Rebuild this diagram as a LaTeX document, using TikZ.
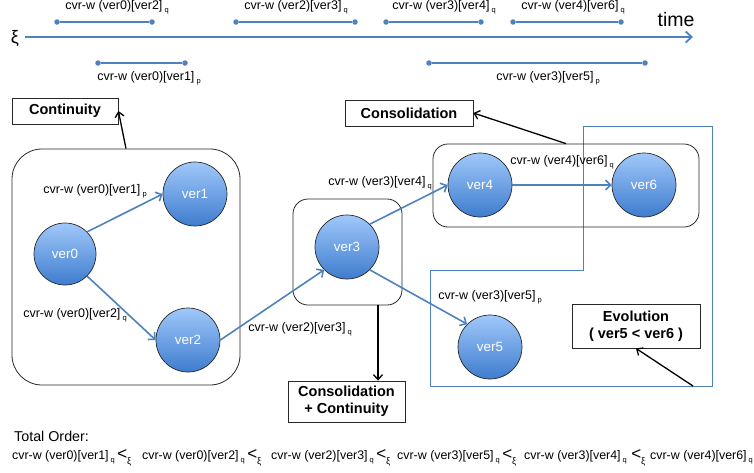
\documentclass[tikz,border=0pt]{standalone}
\usepackage{fontspec}
\setmainfont{Liberation Sans}
\usetikzlibrary{arrows.meta,calc}
\definecolor{eblue}{RGB}{79,129,189}
\definecolor{ctop}{RGB}{160,200,250}
\definecolor{cbot}{RGB}{62,124,206}
\definecolor{bord}{RGB}{40,40,40}
\newcommand{\sq}[1]{\raisebox{-0.5ex}{\fontsize{7.5}{8}\selectfont #1}}
\newcommand{\cvrw}[3]{cvr-w (#1)[#2]\,\sq{#3}}
\newcommand{\ltxi}{{\fontsize{17}{17}\selectfont <}\raisebox{-1.1ex}{\fontsize{9.5}{9.5}\selectfont ξ}}
\begin{document}
\begin{tikzpicture}[x=1pt,y=-1pt,
  vert/.style={circle, draw=bord, line width=0.7pt, minimum size=64pt, inner sep=0pt,
    top color=ctop, bottom color=cbot, text=white, font=\fontsize{13.4}{15}\selectfont},
  lbl/.style={font=\fontsize{12.5}{14}\selectfont, inner sep=0pt},
  tag/.style={draw=bord, line width=0.8pt, fill=white, inner sep=0pt,
    font=\bfseries\fontsize{14.5}{17}\selectfont, align=center},
  grp/.style={draw=bord, line width=0.8pt, inner sep=0pt},
  edge/.style={eblue, line width=1.6pt, -{Straight Barb[length=5pt,width=10pt]}},
  callout/.style={black, line width=1.3pt, -{Straight Barb[length=5pt,width=9pt]}},
  dot/.style={circle, fill=eblue, inner sep=0pt, minimum size=5.5pt},
  ival/.style={eblue, line width=1.6pt},
  term/.style={anchor=base west, inner sep=0pt, font=\fontsize{12.4}{14}\selectfont},
  lt/.style={anchor=base west, inner sep=0pt}
]
\useasboundingbox (0,0) rectangle (754,472);

% ---------- timeline ----------
\node[inner sep=0pt, font=\fontsize{18}{20}\selectfont] (xi) at (15,39) {ξ};
\coordinate (tl0) at (25,37);
\coordinate (tl1) at (693,37);
\draw[eblue, line width=1.8pt, -{Straight Barb[length=6pt,width=11pt]}] (tl0) -- (tl1);
\node[inner sep=0pt, font=\fontsize{19.5}{22}\selectfont] (time) at (676,20) {time};

% intervals above
\node[dot] (a1) at (57,22) {};  \node[dot] (a2) at (152,22) {};
\draw[ival] (a1) -- (a2);
\node[lbl] (la) at (117,7) {\cvrw{ver0}{ver2}{q}};
\node[dot] (b1) at (236,22) {}; \node[dot] (b2) at (355,22) {};
\draw[ival] (b1) -- (b2);
\node[lbl] (lb) at (296,7) {\cvrw{ver2}{ver3}{q}};
\node[dot] (c1) at (386,22) {}; \node[dot] (c2) at (481,22) {};
\draw[ival] (c1) -- (c2);
\node[lbl] (lc) at (444,7) {\cvrw{ver3}{ver4}{q}};
\node[dot] (d1) at (513,22) {}; \node[dot] (d2) at (621,22) {};
\draw[ival] (d1) -- (d2);
\node[lbl] (ld) at (573,7) {\cvrw{ver4}{ver6}{q}};
% intervals below
\node[dot] (e1) at (98,63) {};  \node[dot] (e2) at (185,63) {};
\draw[ival] (e1) -- (e2);
\node[lbl] (le) at (149,78) {\cvrw{ver0}{ver1}{p}};
\node[dot] (f1) at (429,63) {}; \node[dot] (f2) at (645,63) {};
\draw[ival] (f1) -- (f2);
\node[lbl] (lf) at (548,78) {\cvrw{ver3}{ver5}{p}};

% ---------- evolution region ----------
\draw[eblue, line width=1pt] (583,126) -- (712,126) -- (712,386) -- (430,386)
  -- (430,270) -- (583,270) -- cycle;
\coordinate (evoarr) at (693,386);

% ---------- groups ----------
\node[grp, rounded corners=30pt, minimum width=228pt, minimum height=236pt] (lgrp) at (126,267) {};
\node[grp, rounded corners=15pt, minimum width=109pt, minimum height=106pt] (mgrp) at (347.5,252) {};
\node[grp, rounded corners=15pt, minimum width=266pt, minimum height=83pt] (tgrp) at (566,185.5) {};

% ---------- vertices ----------
\node[vert, minimum size=62pt] (v0) at (65,254) {ver0};
\node[vert] (v1) at (195,194) {ver1};
\node[vert] (v2) at (188,340) {ver2};
\node[vert] (v3) at (347,247) {ver3};
\node[vert] (v4) at (480,185) {ver4};
\node[vert] (v6) at (644,185) {ver6};
\node[vert] (v5) at (490,347) {ver5};

\draw[edge] (v0.45) -- (v1.west);
\draw[edge] (v0.-45) -- (v2.west);
\draw[edge] (v2.east) -- (v3.-135);
\draw[edge] (v3.45) -- (v4.west);
\draw[edge] (v4.east) -- (v6.west);
\draw[edge] (v3.-45) -- (v5.135);

\node[lbl] (l01) at (95,191) {\cvrw{ver0}{ver1}{p}};
\node[lbl] (l02) at (75,315) {\cvrw{ver0}{ver2}{q}};
\node[lbl] (l23) at (300,329) {\cvrw{ver2}{ver3}{q}};
\node[lbl] (l34) at (380,183) {\cvrw{ver3}{ver4}{q}};
\node[lbl] (l46) at (562,162) {\cvrw{ver4}{ver6}{q}};
\node[lbl] (l35) at (490,297) {\cvrw{ver3}{ver5}{p}};

% ---------- tags ----------
\node[tag, minimum width=106pt, minimum height=26pt] (cont) at (65,111) {Continuity};
\node[tag, minimum width=128pt, minimum height=26pt] (cons) at (409,113) {Consolidation};
\node[tag, minimum width=117pt, minimum height=41pt] (cc) at (346.5,401.5) {Consolidation\\+ Continuity};
\node[tag, minimum width=128pt, minimum height=44pt] (evo) at (636,326) {Evolution\\( ver5 < ver6 )};

\draw[callout] (lgrp.north) -- (cont.east);
\draw[callout] (tgrp.north) -- (cons.east);
\draw[callout] ($(mgrp.south)+(30.5,0)$) -- ($(cc.north)+(31.5,0)$);
\draw[callout] (evoarr) -- (evo.south);

% ---------- total order ----------
\node[anchor=west, inner sep=0pt, font=\fontsize{14.3}{16}\selectfont] (to) at (14,436) {Total Order:};
\node[term] (t1) at (12,459) {\cvrw{ver0}{ver1}{q}};
\node[term] (t2) at (142,459) {\cvrw{ver0}{ver2}{q}};
\node[term] (t3) at (271,459) {\cvrw{ver2}{ver3}{q}};
\node[term] (t4) at (397,459) {\cvrw{ver3}{ver5}{q}};
\node[term] (t5) at (524,459) {\cvrw{ver3}{ver4}{q}};
\node[term] (t6) at (650,459) {\cvrw{ver4}{ver6}{q}};
\node[lt] (o1) at ([xshift=2pt]t1.base east) {\ltxi};
\node[lt] (o2) at ([xshift=2pt]t2.base east) {\ltxi};
\node[lt] (o3) at ([xshift=2pt]t3.base east) {\ltxi};
\node[lt] (o4) at ([xshift=2pt]t4.base east) {\ltxi};
\node[lt] (o5) at ([xshift=4pt]t5.base east) {\ltxi};
\end{tikzpicture}
\end{document}
